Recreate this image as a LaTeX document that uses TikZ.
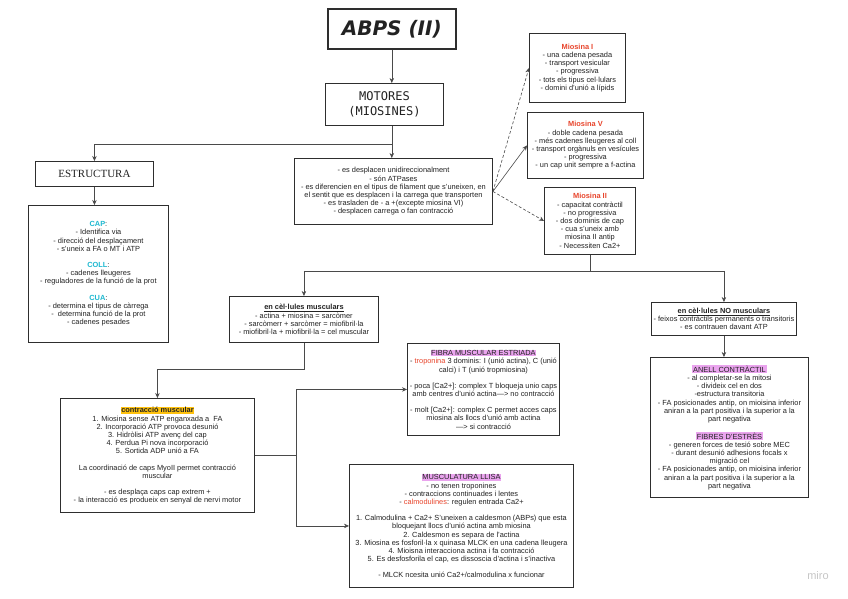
\documentclass[tikz,border=0pt]{standalone}
\usepackage{fontspec}
\setmainfont{Liberation Sans}
\newfontfamily\titlef{DejaVu Sans}
\newfontfamily\monof{DejaVu Sans Mono}
\newfontfamily\seriff{Liberation Serif}
\usetikzlibrary{arrows.meta}
\definecolor{bordc}{HTML}{2E2E2E}
\definecolor{linec}{HTML}{4A4A4A}
\definecolor{txtc}{HTML}{222222}
\definecolor{redt}{HTML}{E8452C}
\definecolor{cyant}{HTML}{1DB8D0}
\definecolor{yelhl}{HTML}{FFC20E}
\definecolor{pinkhl}{HTML}{EAA4EE}
\newcommand\bodyf{\fontsize{7.4}{8.2}\selectfont}
\newcommand\hlp[1]{{\setlength{\fboxsep}{0.7pt}\colorbox{pinkhl}{#1}}}
\newcommand\hly[1]{{\setlength{\fboxsep}{0.7pt}\colorbox{yelhl}{#1}}}
\newcommand\redh[1]{{\color{redt}\textbf{#1}}}
\newcommand\cyh[1]{{\color{cyant}\textbf{#1}}}
\begin{document}
\begin{tikzpicture}[x=1pt,y=-1pt,
  box/.style={draw=bordc,line width=0.9pt,fill=white,anchor=north west,align=center,inner sep=2pt,font=\bodyf,text=txtc},
  conn/.style={draw=linec,line width=0.6pt},
  arr/.style={conn,-{Stealth[length=5pt,width=4.5pt]}},
  darr/.style={arr,dash pattern=on 3pt off 2pt}]
\fill[white] (0,0) rectangle (848,599);
\useasboundingbox (0,0) rectangle (848,599);

\node[box,line width=1.6pt,minimum width=128pt,minimum height=40pt,font=\titlef\bfseries\itshape\fontsize{20}{20}\selectfont] (title) at (327,8) {ABPS (II)};

\node[box,minimum width=118pt,minimum height=42pt,font=\monof\fontsize{12}{15}\selectfont] (mot) at (325,83) {MOTORES\\(MIOSINES)};

\node[box,minimum width=118pt,minimum height=25pt,font=\seriff\fontsize{11}{11}\selectfont] (estr) at (35,161) {ESTRUCTURA};

\node[box,minimum width=140pt,minimum height=137pt] (left) at (28,205) {\cyh{CAP}:\\
- Identifica via\\
- direcció del desplaçament\\
- s'uneix a FA o MT i ATP\\[8pt]
\cyh{COLL}:\\
- cadenes lleugeres\\
- reguladores de la funció de la prot\\[8pt]
\cyh{CUA}:\\
- determina el tipus de càrrega\\
-\ \ determina funció de la prot\\
- cadenes pesades};

\node[box,minimum width=198pt,minimum height=66pt] (cen) at (294,158) {- es desplacen unidireccionalment\\
- són ATPases\\
- es diferencien en el tipus de filament que s'uneixen, en\\
el sentit que es desplacen i la carrega que transporten\\
- es trasladen de - a +(excepte miosina VI)\\
- desplacen carrega o fan contracció};

\node[box,minimum width=96pt,minimum height=69pt] (m1) at (529,33) {\redh{Miosina I}\\
- una cadena pesada\\
- transport vesicular\\
- progressiva\\
- tots els tipus cel·lulars\\
- domini d'unió a lípids};

\node[box,minimum width=116pt,minimum height=66pt] (m5) at (527,112) {\redh{Miosina V}\\
- doble cadena pesada\\
- més cadenes lleugeres al coll\\
- transport orgànuls en vesícules\\
- progressiva\\
- un cap unit sempre a f-actina};

\node[box,minimum width=91pt,minimum height=67pt] (m2) at (544,187) {\redh{Miosina II}\\
- capacitat contràctil\\
- no progressiva\\
- dos dominis de cap\\
- cua s'uneix amb\\
miosina II antip\\
- Necessiten Ca2+};

\node[box,minimum width=149pt,minimum height=46pt] (encel) at (229,296) {\textbf{\underline{en cèl·lules musculars}}\\
- actina + miosina = sarcòmer\\
- sarcòmerr + sarcòmer = miofibril·la\\
- miofibril·la + miofibril·la = cel muscular};

\node[box,minimum width=145pt,minimum height=33pt] (nocel) at (651,302) {\textbf{\underline{en cèl·lules NO musculars}}\\
- feixos contràctils permanents o transitoris\\
- es contrauen davant ATP};

\node[box,minimum width=152pt,minimum height=92pt] (fibra) at (407,343) {\hlp{FIBRA MUSCULAR ESTRIADA}\\
- {\color{redt}troponina} 3 dominis: I (unió actina), C (unió\\
calci) i T (unió tropmiosina)\\[8pt]
- poca [Ca2+]: complex T bloqueja unio caps\\
amb centres d'unió actina—> no contracció\\[8pt]
- molt [Ca2+]: complex C permet acces caps\\
miosina als llocs d'unió amb actina\\
—> si contracció};

\node[box,minimum width=194pt,minimum height=114pt] (contr) at (60,398) {\hly{\textbf{contracció muscular}}\\
1. Miosina sense ATP enganxada a\ \ FA\\
2. Incorporació ATP provoca desunió\\
3. Hidròlisi ATP avenç del cap\\
4. Perdua Pi nova incorporació\\
5. Sortida ADP unió a FA\\[8pt]
La coordinació de caps MyoII permet contracció\\
muscular\\[8pt]
- es desplaça caps cap extrem +\\
- la interacció es produeix en senyal de nervi motor};

\node[box,minimum width=224pt,minimum height=123pt] (llisa) at (349,464) {\hlp{MUSCULATURA LLISA}\\
- no tenen troponines\\
- contraccions continuades i lentes\\
- {\color{redt}calmodulines}: regulen entrada Ca2+\\[8pt]
1. Calmodulina + Ca2+ S'uneixen a caldesmon (ABPs) que esta\\
bloquejant llocs d'unió actina amb miosina\\
2. Caldesmon es separa de l'actina\\
3. Miosina es fosforil·la x quinasa MLCK en una cadena lleugera\\
4. Mioisna interacciona actina i fa contracció\\
5. Es desfosforila el cap, es dissoscia d'actina i s'inactiva\\[8pt]
- MLCK ncesita unió Ca2+/calmodulina x funcionar};

\node[box,minimum width=158pt,minimum height=140pt] (anell) at (650,357) {\hlp{ANELL CONTRÀCTIL}\\
- al completar-se la mitosi\\
- divideix cel en dos\\
-estructura transitoria\\
- FA posicionades antip, on mioisina inferior\\
aniran a la part positiva i la superior a la\\
part negativa\\[8pt]
\hlp{FIBRES D'ESTRÈS}\\
- generen forces de tesió sobre MEC\\
- durant desunió adhesions focals x\\
migració cel\\
- FA posicionades antip, on mioisina inferior\\
aniran a la part positiva i la superior a la\\
part negativa};

\node[text=gray!45,font=\fontsize{11}{11}\selectfont] (miro) at (818,576) {miro};

% connectors
\draw[arr] (title.south) -- (title.south |- mot.north);
\draw[conn] (title.south |- mot.south) -- ++(0,18) coordinate (j1);
\draw[arr] (j1) -| (estr.north);
\draw[arr] (j1) -- (j1 |- cen.north);
\draw[arr] (estr.south) -- (estr.south |- left.north);
\draw[darr] (cen.east) -- (m1.west);
\draw[arr] (cen.east) -- (m5.west);
\draw[darr] (cen.east) -- (m2.west);
\draw[conn] (m2.south) -- ++(0,16) coordinate (j2);
\draw[conn] (encel.north |- j2) -- (nocel.north |- j2);
\draw[arr] (encel.north |- j2) -- (encel.north);
\draw[arr] (nocel.north |- j2) -- (nocel.north);
\draw[arr] (encel.south) -- ++(0,26) -| (contr.north);
\coordinate (v) at (296,0);
\draw[conn] (contr.east) -- (v |- contr.east);
\draw[arr] (v |- contr.east) |- (fibra.west);
\draw[arr] (v |- contr.east) |- (llisa.west);
\draw[arr] (nocel.south) -- (nocel.south |- anell.north);
\end{tikzpicture}
\end{document}
